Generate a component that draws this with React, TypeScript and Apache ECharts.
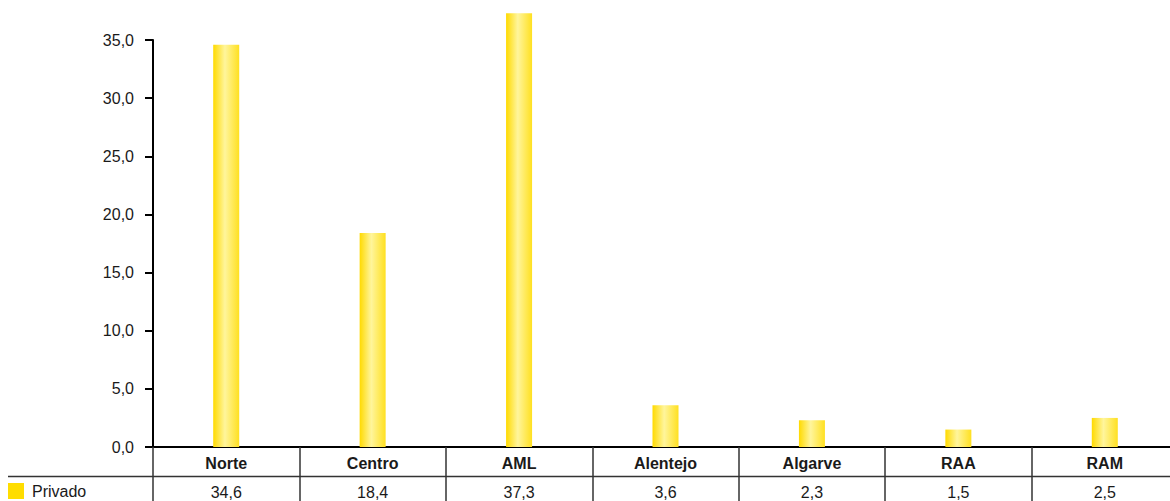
import React, { useEffect, useRef } from "react";
import * as echarts from "echarts";

const categories = ["Norte", "Centro", "AML", "Alentejo", "Algarve", "RAA", "RAM"];
const privado = [34.6, 18.4, 37.3, 3.6, 2.3, 1.5, 2.5];
const seriesName = "Privado";
const yMin = 0;
const yMax = 35;
const yStep = 5;

const fmt = (v: number) => v.toFixed(1).replace(".", ",");
const FONT = "'Liberation Sans', Arial, sans-serif";

export default function App() {
  const ref = useRef<HTMLDivElement>(null);

  useEffect(() => {
    if (!ref.current) return;
    const chart = echarts.init(ref.current, undefined, { renderer: "svg" });
    const barFill = new echarts.graphic.LinearGradient(0, 0, 1, 0, [
      { offset: 0, color: "#FFDA00" },
      { offset: 0.45, color: "#FFF59C" },
      { offset: 1, color: "#FFE020" },
    ]);
    chart.setOption({
      animation: false,
      textStyle: { fontFamily: FONT },
      grid: { left: 153, right: 0, top: 40, bottom: 54, containLabel: false },
      legend: {
        left: 8,
        top: 483,
        padding: 0,
        icon: "rect",
        itemWidth: 16,
        itemHeight: 16,
        itemGap: 8,
        textStyle: {
          fontSize: 16,
          color: "#1a1a1a",
          fontFamily: FONT,
          padding: [0, 0, 0, 3],
        },
        data: [{ name: seriesName, itemStyle: { color: "#FFDD00" } }],
      },
      xAxis: [
        {
          type: "category",
          data: categories,
          boundaryGap: true,
          position: "bottom",
          axisLine: { show: true, lineStyle: { color: "#000", width: 2 } },
          axisTick: {
            show: true,
            interval: 0,
            alignWithLabel: false,
            length: 60,
            lineStyle: { color: "#333", width: 1.5 },
          },
          axisLabel: {
            interval: 0,
            margin: 8,
            fontSize: 16,
            fontWeight: "bold",
            color: "#1a1a1a",
            fontFamily: FONT,
          },
        },
        {
          type: "category",
          data: categories,
          position: "bottom",
          offset: 29,
          axisLine: { show: false },
          axisTick: { show: false },
          axisLabel: {
            interval: 0,
            margin: 8,
            fontSize: 16,
            color: "#1a1a1a",
            fontFamily: FONT,
            formatter: (_v: string, i: number) => fmt(privado[i]),
          },
        },
      ],
      yAxis: {
        type: "value",
        min: yMin,
        max: yMax,
        interval: yStep,
        splitLine: { show: false },
        axisLine: { show: true, lineStyle: { color: "#000", width: 2 } },
        axisTick: { show: true, length: 8, lineStyle: { color: "#000", width: 2 } },
        axisLabel: {
          margin: 19,
          fontSize: 16,
          color: "#1a1a1a",
          fontFamily: FONT,
          formatter: (v: number) => fmt(v),
        },
      },
      graphic: [
        {
          type: "line",
          shape: { x1: 8, y1: 476.5, x2: 1178, y2: 476.5 },
          style: { stroke: "#333", lineWidth: 1.5 },
          silent: true,
        },
      ],
      series: [
        {
          name: seriesName,
          type: "bar",
          data: privado,
          barWidth: 26,
          clip: false,
          itemStyle: { color: barFill },
        },
      ],
    });
    return () => chart.dispose();
  }, []);

  return (
    <div
      style={{
        position: "fixed",
        left: 0,
        top: 0,
        width: 1170,
        height: 501,
        overflow: "hidden",
        background: "#fff",
      }}
    >
      <div ref={ref} style={{ width: 1178, height: 501 }} />
    </div>
  );
}
